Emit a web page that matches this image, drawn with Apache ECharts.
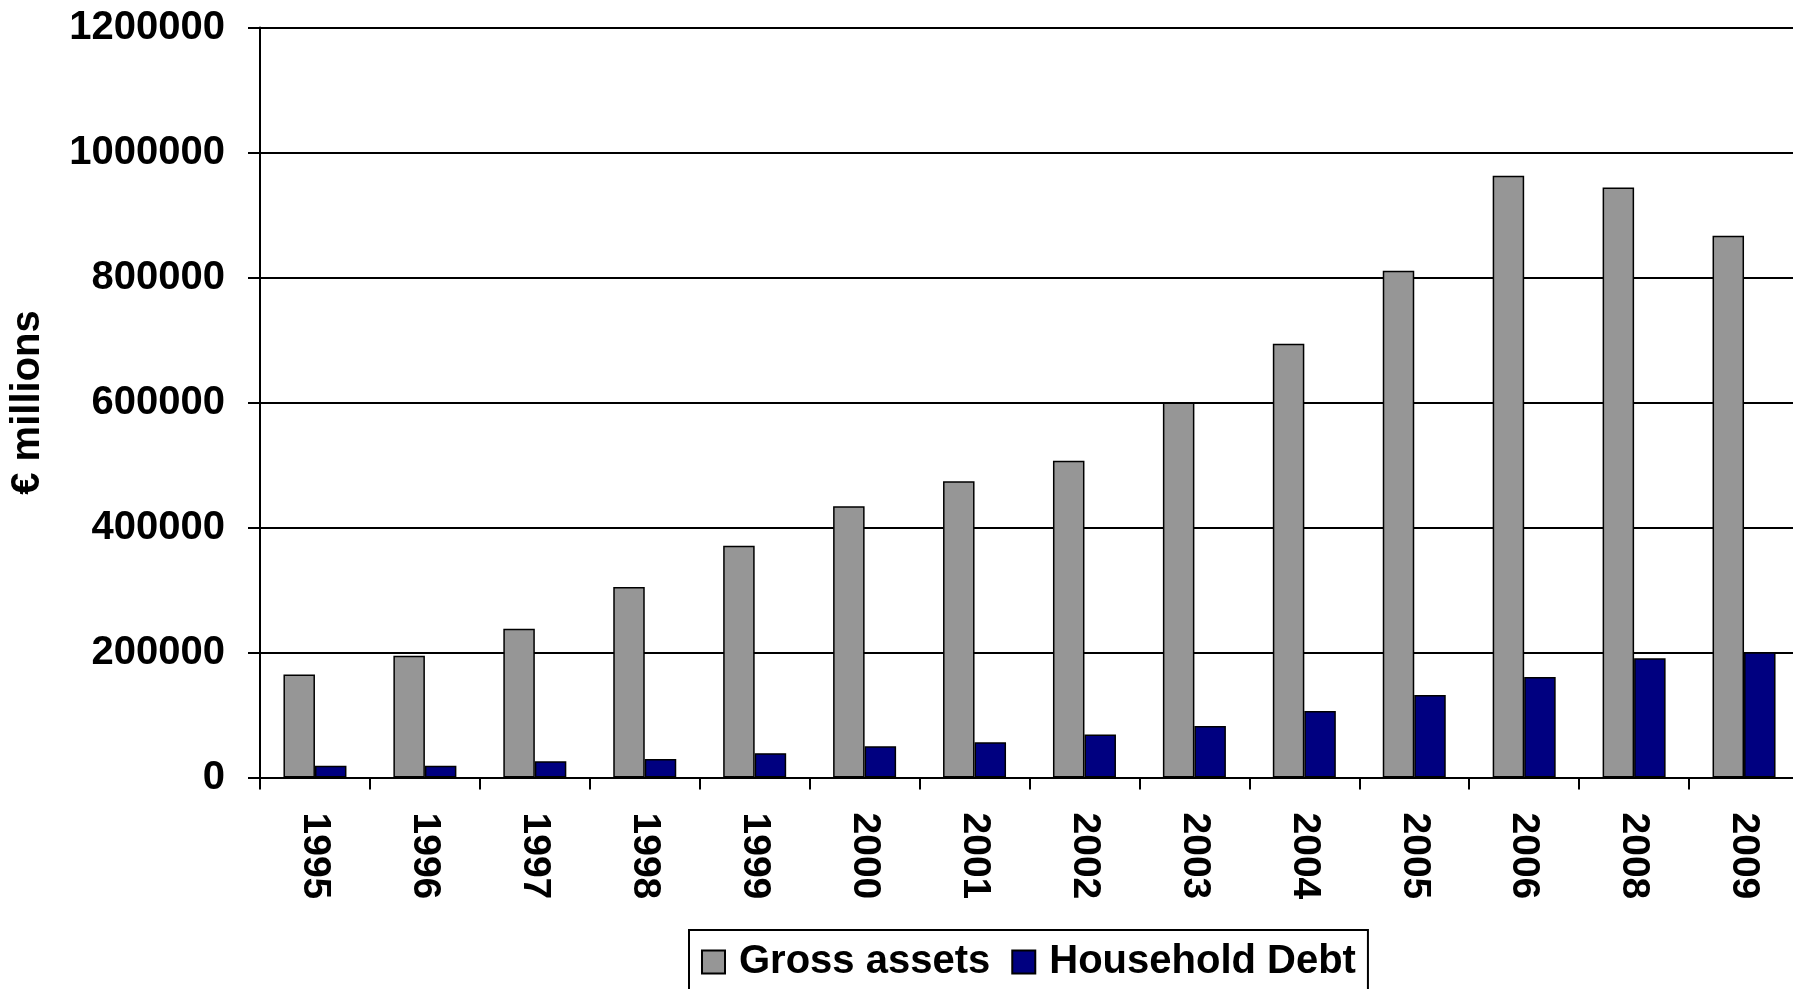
<!DOCTYPE html>
<html>
<head>
<meta charset="utf-8">
<title>Gross assets and household debt</title>
<script src="https://cdn.jsdelivr.net/npm/echarts@6/dist/echarts.min.js"></script>
<style>
    html, body { margin: 0; padding: 0; background: #fff; }
    #chart { width: 1793px; height: 989px; }
</style>
</head>
<body>
<div id="chart"></div>
<script>
// data (€ millions)
var years = ['1995', '1996', '1997', '1998', '1999', '2000', '2001', '2002', '2003', '2004', '2005', '2006', '2008', '2009'];
var grossAssets = [165000, 195000, 238000, 305000, 371000, 434000, 474000, 507000, 600000, 694000, 811000, 963000, 944000, 867000];
var householdDebt = [19000, 19000, 26000, 29500, 39000, 50000, 56500, 69000, 82500, 106500, 132000, 161000, 191000, 200500];
var yTicks = [0, 200000, 400000, 600000, 800000, 1000000, 1200000];

var font = 'Liberation Sans, Arial, sans-serif';

var myChart = echarts.init(document.getElementById('chart'));
var option = {
    animation: false,
    backgroundColor: '#fff',
    textStyle: { fontFamily: font },
    grid: {
        left: 260,
        top: 27.5,
        width: 1539,
        height: 750,
        containLabel: false,
        outerBoundsMode: 'none'
    },
    legend: {
        left: 689,
        top: 930,
        padding: [10, 12, 24, 12],
        borderColor: '#000',
        borderWidth: 2,
        itemWidth: 23,
        itemHeight: 23,
        itemGap: 21,
        icon: 'rect',
        textStyle: {
            color: '#000',
            fontSize: 40,
            fontWeight: 'bold',
            fontFamily: font,
            lineHeight: 44,
            padding: [0, 0, 0, 9]
        },
        data: ['Gross assets', 'Household Debt']
    },
    xAxis: {
        type: 'category',
        data: years,
        boundaryGap: true,
        axisLine: { show: true, lineStyle: { color: '#000', width: 2 } },
        axisTick: { show: true, length: 12, interval: 0, lineStyle: { color: '#000', width: 2 } },
        axisLabel: {
            interval: 0,
            rotate: -90,
            margin: 35,
            color: '#000',
            fontSize: 39,
            fontWeight: 'bold',
            fontFamily: font
        },
        splitLine: { show: false }
    },
    yAxis: {
        type: 'value',
        min: yTicks[0],
        max: yTicks[yTicks.length - 1],
        interval: yTicks[1] - yTicks[0],
        name: '€ millions',
        nameLocation: 'middle',
        nameGap: 212,
        nameTextStyle: { color: '#000', fontSize: 40, fontWeight: 'bold', fontFamily: font },
        axisLine: { show: true, lineStyle: { color: '#000', width: 2 } },
        axisTick: { show: true, length: 12, lineStyle: { color: '#000', width: 2 } },
        axisLabel: {
            margin: 35,
            color: '#000',
            fontSize: 40,
            fontWeight: 'bold',
            fontFamily: font,
            formatter: function (value) {
                return String(value);
            }
        },
        splitLine: { show: true, lineStyle: { color: '#000', width: 2 } }
    },
    series: [
        {
            name: 'Gross assets',
            type: 'bar',
            data: grossAssets,
            barWidth: 31.5,
            barGap: '0%',
            itemStyle: { color: '#969696', borderColor: '#000', borderWidth: 1.5 }
        },
        {
            name: 'Household Debt',
            type: 'bar',
            data: householdDebt,
            barWidth: 31.5,
            barGap: '0%',
            itemStyle: { color: '#000080', borderColor: '#000', borderWidth: 1.5 }
        }
    ]
};
myChart.setOption(option);
</script>
</body>
</html>
